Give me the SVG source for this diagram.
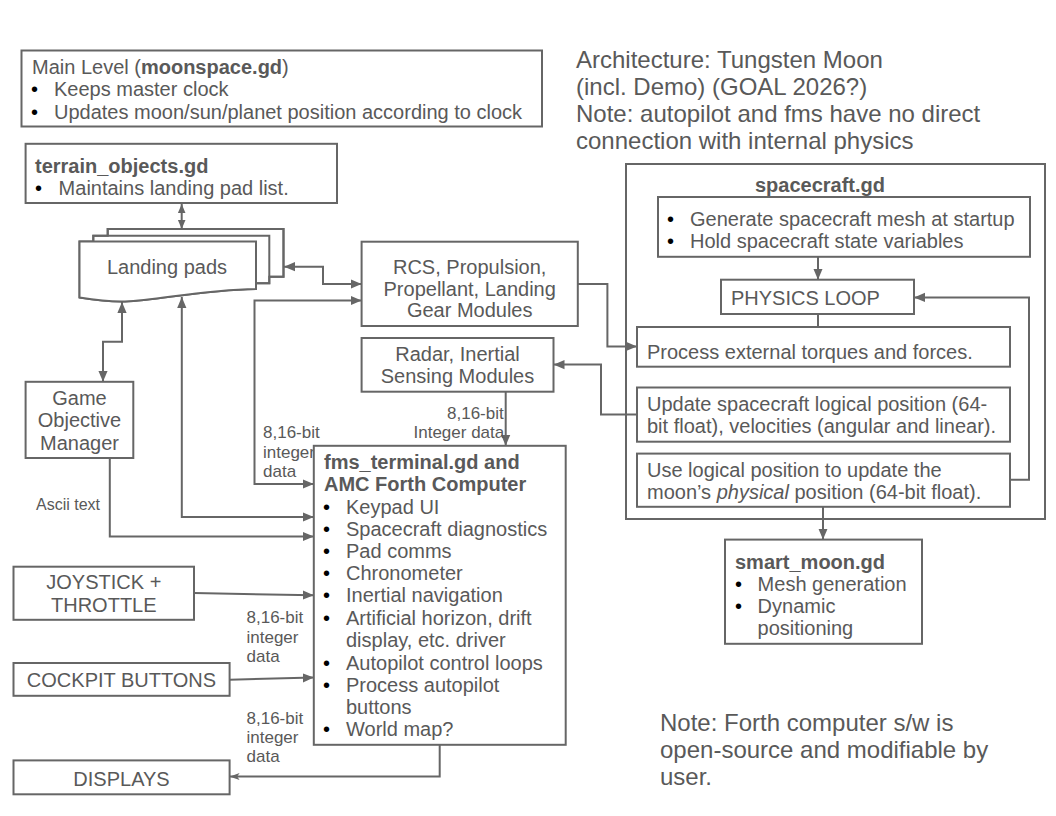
<svg xmlns="http://www.w3.org/2000/svg" width="1056" height="816" viewBox="0 0 1056 816">
<defs>
<style>
text{font-family:"Liberation Sans",Arial,sans-serif;fill:#595959;font-size:20px}
.b{font-weight:bold}
.t24{font-size:24px}
.lbl{font-size:17px}
.sm{font-size:16px}
.bul{fill:#000}
.box{fill:#fff;stroke:#666;stroke-width:2}
.ln{fill:none;stroke:#666;stroke-width:2}
.mid{text-anchor:middle}
</style>
<marker id="ah" viewBox="0 0 10 10" refX="10" refY="5" markerWidth="11" markerHeight="11" markerUnits="userSpaceOnUse" orient="auto-start-reverse"><path d="M0,0.8 L10,5 L0,9.2 z" fill="#666"/></marker>
<marker id="ahs" viewBox="0 0 10 10" refX="10" refY="5" markerWidth="9" markerHeight="9" markerUnits="userSpaceOnUse" orient="auto-start-reverse"><path d="M0,0.8 L10,5 L0,9.2 z" fill="#666"/></marker>
<marker id="aho" viewBox="0 0 10 10" refX="10" refY="5" markerWidth="10" markerHeight="10" markerUnits="userSpaceOnUse" orient="auto-start-reverse"><path d="M0,1.5 L10,5 L0,8.5 L2.5,5 z" fill="#666"/></marker>
</defs>
<rect width="1056" height="816" fill="#fff"/>

<g id="title">
<text class="t24" x="576" y="68">Architecture: Tungsten Moon</text>
<text class="t24" x="576" y="94.5">(incl. Demo) (GOAL 2026?)</text>
<text class="t24" x="576" y="121.5">Note: autopilot and fms have no direct</text>
<text class="t24" x="576" y="148.5">connection with internal physics</text>
</g>

<g id="note">
<text class="t24" x="660" y="731">Note: Forth computer s/w is</text>
<text class="t24" x="660" y="758">open-source and modifiable by</text>
<text class="t24" x="660" y="785">user.</text>
</g>

<g id="connectors">
<path class="ln" d="M181.7,204 V229" marker-start="url(#ahs)" marker-end="url(#ahs)"/>
<path class="ln" d="M284,266.7 H323 V284 H361.6" marker-start="url(#ah)" marker-end="url(#ah)"/>
<path class="ln" d="M361.6,300.5 H254.5 V484 H313.8" marker-start="url(#ah)" marker-end="url(#ah)"/>
<path class="ln" d="M505.7,391.7 V445.8" marker-end="url(#ah)"/>
<path class="ln" d="M637,414.6 H601 V364.6 H553.5" marker-end="url(#ah)"/>
<path class="ln" d="M577.8,284 H607.4 V346.4 H637" marker-end="url(#ah)"/>
<path class="ln" d="M818,257 V279.7" marker-end="url(#ah)"/>
<path class="ln" d="M818,314 V327"/>
<path class="ln" d="M1010,479.7 H1029 V297.4 H914" marker-end="url(#ah)"/>
<path class="ln" d="M823,507 V539.6" marker-end="url(#ah)"/>
<path class="ln" d="M122,302 V341.7 H103 V381.8" marker-start="url(#ah)" marker-end="url(#ah)"/>
<path class="ln" d="M181.8,297 V517 H313.8" marker-start="url(#ah)" marker-end="url(#ah)"/>
<path class="ln" d="M109.8,458 V536.5 H313.8" marker-end="url(#ah)"/>
<path class="ln" d="M194,593 L313.8,595.3" marker-end="url(#ah)"/>
<path class="ln" d="M229.6,679.7 L313.8,677.6" marker-end="url(#ah)"/>
<path class="ln" d="M439.7,744.8 V776.6 H229.6" marker-end="url(#aho)"/>
<text class="lbl" x="263" y="438">8,16-bit</text>
<text class="lbl" x="263" y="457.6">integer</text>
<text class="lbl" x="263" y="477">data</text>
<text class="lbl" x="447" y="418.5">8,16-bit</text>
<text class="lbl" x="413.5" y="438">Integer data</text>
<text class="sm" x="36" y="510">Ascii text</text>
<text class="lbl" x="246.5" y="623">8,16-bit</text>
<text class="lbl" x="246.5" y="642.5">integer</text>
<text class="lbl" x="246.5" y="662">data</text>
<text class="lbl" x="246.5" y="723.7">8,16-bit</text>
<text class="lbl" x="246.5" y="743">integer</text>
<text class="lbl" x="246.5" y="762">data</text>
</g>

<g id="main-level">
<rect class="box" x="21.5" y="50.5" width="520.5" height="76"/>
<text x="32" y="74">Main Level (<tspan class="b">moonspace.gd</tspan>)</text>
<text class="bul" x="31" y="96">•</text><text x="54" y="96">Keeps master clock</text>
<text class="bul" x="31" y="118.5">•</text><text x="54" y="118.5">Updates moon/sun/planet position according to clock</text>
</g>

<g id="terrain-objects">
<rect class="box" x="25.6" y="143.8" width="311.4" height="59.2"/>
<text class="b" x="35" y="172.6">terrain_objects.gd</text>
<text class="bul" x="35" y="195">•</text><text x="58.6" y="195">Maintains landing pad list.</text>
</g>

<g id="landing-pads">
<path class="box" d="M107.7,229 H283.5 V276.7 H269.3 V283.3 H256 V289 C200,290 160,300 125,301.5 C110,302 95,300 79.5,297.5 V241.5 H93.3 V235.7 H107.7 Z"/>
<path class="ln" d="M93.3,241.5 V235.7 H269.3 V283.3 H256"/>
<path class="ln" d="M107.7,235.7 V229 H283.5 V276.7 H269.3"/>
<path class="box" d="M79.5,241.5 H256 V289 C200,290 160,300 125,301.5 C110,302 95,300 79.5,297.5 Z"/>
<text class="mid" x="167" y="273.7">Landing pads</text>
</g>

<g id="rcs">
<rect class="box" x="361.6" y="241.7" width="216.2" height="84.3"/>
<text class="mid" x="469.7" y="273.7">RCS, Propulsion,</text>
<text class="mid" x="469.7" y="295.5">Propellant, Landing</text>
<text class="mid" x="469.7" y="317.4">Gear Modules</text>
</g>

<g id="radar">
<rect class="box" x="361.6" y="338" width="191.9" height="53.7"/>
<text class="mid" x="457.5" y="361">Radar, Inertial</text>
<text class="mid" x="457.5" y="383">Sensing Modules</text>
</g>

<g id="game-objective">
<rect class="box" x="25.6" y="381.8" width="107.7" height="76.2"/>
<text class="mid" x="79.5" y="405">Game</text>
<text class="mid" x="79.5" y="427">Objective</text>
<text class="mid" x="79.5" y="449.7">Manager</text>
</g>

<g id="fms-terminal">
<rect class="box" x="313.8" y="445.8" width="251.9" height="299"/>
<text class="b" x="324" y="469">fms_terminal.gd and</text>
<text class="b" x="324" y="491.4">AMC Forth Computer</text>
<g class="bul">
<text class="bul" x="323" y="513.8">•</text>
<text class="bul" x="323" y="536">•</text>
<text class="bul" x="323" y="558">•</text>
<text class="bul" x="323" y="580.4">•</text>
<text class="bul" x="323" y="602.3">•</text>
<text class="bul" x="323" y="625">•</text>
<text class="bul" x="323" y="670">•</text>
<text class="bul" x="323" y="692">•</text>
<text class="bul" x="323" y="735.6">•</text>
</g>
<text x="346" y="513.8">Keypad UI</text>
<text x="346" y="536">Spacecraft diagnostics</text>
<text x="346" y="558">Pad comms</text>
<text x="346" y="580.4">Chronometer</text>
<text x="346" y="602.3">Inertial navigation</text>
<text x="346" y="625">Artificial horizon, drift</text>
<text x="346" y="647">display, etc. driver</text>
<text x="346" y="670">Autopilot control loops</text>
<text x="346" y="692">Process autopilot</text>
<text x="346" y="713.8">buttons</text>
<text x="346" y="735.6">World map?</text>
</g>

<g id="joystick">
<rect class="box" x="13.5" y="566.7" width="180.5" height="53.1"/>
<text class="mid" x="103.8" y="589">JOYSTICK +</text>
<text class="mid" x="103.8" y="611.7">THROTTLE</text>
</g>

<g id="cockpit-buttons">
<rect class="box" x="13.5" y="663" width="216.1" height="32.8"/>
<text class="mid" x="121.5" y="687">COCKPIT BUTTONS</text>
</g>

<g id="displays">
<rect class="box" x="13.5" y="760.4" width="216.1" height="33.9"/>
<text class="mid" x="121.5" y="785.6">DISPLAYS</text>
</g>

<g id="spacecraft">
<rect class="ln" x="626" y="164" width="419" height="355"/>
<text class="b mid" x="820" y="192">spacecraft.gd</text>
<g id="sc-init">
<rect class="box" x="658" y="197" width="372" height="59.8"/>
<text class="bul" x="667" y="225.7">•</text><text x="690" y="225.7">Generate spacecraft mesh at startup</text>
<text class="bul" x="667" y="248">•</text><text x="690" y="248">Hold spacecraft state variables</text>
</g>
<g id="physics-loop">
<rect class="box" x="721" y="279.7" width="193" height="34.3"/>
<text x="731" y="305.4">PHYSICS LOOP</text>
</g>
<g id="process-forces">
<rect class="box" x="637" y="327" width="373" height="39.7"/>
<text x="647" y="358.6">Process external torques and forces.</text>
</g>
<g id="update-position">
<rect class="box" x="637" y="387.5" width="373" height="54.2"/>
<text x="647" y="411">Update spacecraft logical position (64-</text>
<text x="647" y="433">bit float), velocities (angular and linear).</text>
</g>
<g id="use-position">
<rect class="box" x="637" y="453.6" width="373" height="53.2"/>
<text x="647" y="477">Use logical position to update the</text>
<text x="647" y="499">moon’s <tspan font-style="italic">physical</tspan> position (64-bit float).</text>
</g>
</g>

<g id="smart-moon">
<rect class="box" x="725" y="539.6" width="197" height="104.2"/>
<text class="b" x="735" y="568.5">smart_moon.gd</text>
<text class="bul" x="735" y="591">•</text><text x="757.6" y="591">Mesh generation</text>
<text class="bul" x="735" y="613">•</text><text x="757.6" y="613">Dynamic</text>
<text x="757.6" y="635">positioning</text>
</g>
</svg>
